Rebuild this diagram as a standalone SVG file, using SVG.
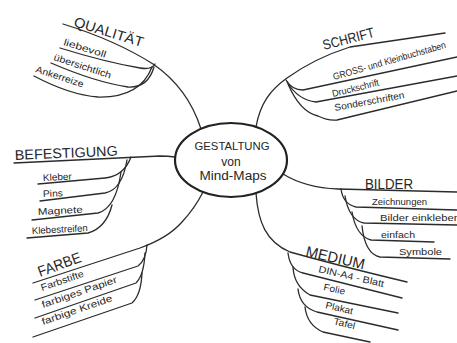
<svg xmlns="http://www.w3.org/2000/svg" width="457" height="343" viewBox="0 0 457 343">
<style>
.ln{fill:none;stroke:#2b2b2b;stroke-width:1.3;stroke-linecap:round;stroke-linejoin:round}
.t{font-family:"Liberation Sans","DejaVu Sans",sans-serif;fill:#262626}
.h{font-size:14px}
.i{font-size:9.5px}
.c{font-size:11px;text-anchor:middle}
</style>
<rect width="457" height="343" fill="#ffffff"/>
<g id="connectors">
<path class="ln" d="M63,24 Q115,40 153,64 Q188,88 201,129"/>
<path class="ln" d="M60,48 Q105,62 140,68 Q152,70 155,64"/>
<path class="ln" d="M51,63 Q95,82 128,87 Q148,88 154,67"/>
<path class="ln" d="M34,76 Q70,95 98,97 Q140,98 152,67"/>
<path class="ln" d="M256,127 C260,104 270,90 287,78 Q315,58 350,47 L445,33"/>
<path class="ln" d="M286,80 Q292,90 303,90 L457,57"/>
<path class="ln" d="M287,82 Q298,100 316,102 L457,76"/>
<path class="ln" d="M288,84 Q300,112 318,116 Q328,121 337,120 L457,91"/>
<path class="ln" d="M14,163 L160,156 Q168,156 175,157"/>
<path class="ln" d="M38,184 L105,178 Q124,176 131,157"/>
<path class="ln" d="M40,201 L105,193 Q122,190 127,160"/>
<path class="ln" d="M32,220 L98,213 Q116,208 121,172"/>
<path class="ln" d="M27,238 L88,233 Q106,228 112,205"/>
<path class="ln" d="M283,174 C296,182 312,188 338,189 L457,192"/>
<path class="ln" d="M341,189 Q343,204 356,207 L457,210"/>
<path class="ln" d="M345,196 Q349,220 364,223 L457,225"/>
<path class="ln" d="M352,212 Q356,236 371,240 L434,242"/>
<path class="ln" d="M362,226 Q365,254 380,257 L450,259"/>
<path class="ln" d="M256,193 C258,222 266,242 290,252 Q340,266 407,282"/>
<path class="ln" d="M288,253 Q290,270 303,273 L402,298"/>
<path class="ln" d="M293,267 Q294,286 310,295 L398,313"/>
<path class="ln" d="M298,289 Q300,307 317,312 L398,330"/>
<path class="ln" d="M305,307 Q307,325 323,332 L370,342"/>
<path class="ln" d="M33,283 L140,248 Q168,238 182,222 Q195,208 203,192"/>
<path class="ln" d="M35,300 L138,266 Q146,260 147,245"/>
<path class="ln" d="M35,318 L136,283 Q144,275 145,253"/>
<path class="ln" d="M33,337 L132,303 Q141,295 142,273"/>
</g>
<g id="center">
<ellipse cx="231" cy="160" rx="56" ry="37" fill="none" stroke="#222" stroke-width="2.2"/>
<text class="t c" x="232" y="150" textLength="75" lengthAdjust="spacingAndGlyphs">GESTALTUNG</text>
<text class="t c" x="231" y="166" style="font-size:12px">von</text>
<text class="t c" x="233" y="180" textLength="67" lengthAdjust="spacingAndGlyphs" style="font-size:12px">Mind-Maps</text>
</g>
<g id="qualitaet">
<text class="t h" transform="translate(73,26) rotate(17)" textLength="72" lengthAdjust="spacingAndGlyphs">QUALITÄT</text>
<text class="t i" transform="translate(63,45) rotate(17)" textLength="44" lengthAdjust="spacingAndGlyphs">liebevoll</text>
<text class="t i" transform="translate(53,60) rotate(18)" textLength="60" lengthAdjust="spacingAndGlyphs">übersichtlich</text>
<text class="t i" transform="translate(35,72) rotate(18)" textLength="50" lengthAdjust="spacingAndGlyphs">Ankerreize</text>
</g>
<g id="schrift">
<text class="t h" transform="translate(324,50) rotate(-14.5)" textLength="53" lengthAdjust="spacingAndGlyphs">SCHRIFT</text>
<text class="t i" transform="translate(334,80) rotate(-16)" textLength="117" lengthAdjust="spacingAndGlyphs">GROSS- und Kleinbuchstaben</text>
<text class="t i" transform="translate(333,97) rotate(-14)" textLength="48" lengthAdjust="spacingAndGlyphs">Druckschrift</text>
<text class="t i" transform="translate(335,111) rotate(-10.5)" textLength="71" lengthAdjust="spacingAndGlyphs">Sonderschriften</text>
</g>
<g id="befestigung">
<text class="t h" transform="translate(15,160) rotate(-2.5)" textLength="103" lengthAdjust="spacingAndGlyphs">BEFESTIGUNG</text>
<text class="t i" transform="translate(43,181) rotate(-3)" textLength="29" lengthAdjust="spacingAndGlyphs">Kleber</text>
<text class="t i" transform="translate(43,197) rotate(-2)" textLength="20" lengthAdjust="spacingAndGlyphs">Pins</text>
<text class="t i" transform="translate(38,215) rotate(-3)" textLength="45" lengthAdjust="spacingAndGlyphs">Magnete</text>
<text class="t i" transform="translate(32,234) rotate(-3)" textLength="56" lengthAdjust="spacingAndGlyphs">Klebestreifen</text>
</g>
<g id="bilder">
<text class="t h" x="365" y="189" textLength="48" lengthAdjust="spacingAndGlyphs">BILDER</text>
<text class="t i" x="372" y="205" textLength="55" lengthAdjust="spacingAndGlyphs">Zeichnungen</text>
<text class="t i" x="380" y="221" textLength="80" lengthAdjust="spacingAndGlyphs">Bilder einkleben</text>
<text class="t i" x="381" y="238" textLength="34" lengthAdjust="spacingAndGlyphs">einfach</text>
<text class="t i" x="399" y="255" textLength="43" lengthAdjust="spacingAndGlyphs">Symbole</text>
</g>
<g id="medium">
<text class="t h" transform="translate(305,256) rotate(13)" textLength="60" lengthAdjust="spacingAndGlyphs" style="font-size:15px">MEDIUM</text>
<text class="t i" transform="translate(318,272) rotate(13)" textLength="67" lengthAdjust="spacingAndGlyphs">DIN-A4 - Blatt</text>
<text class="t i" transform="translate(323,290) rotate(12)" textLength="22" lengthAdjust="spacingAndGlyphs">Folie</text>
<text class="t i" transform="translate(325,308) rotate(13)" textLength="28" lengthAdjust="spacingAndGlyphs">Plakat</text>
<text class="t i" transform="translate(333,324) rotate(14)" textLength="22" lengthAdjust="spacingAndGlyphs">Tafel</text>
</g>
<g id="farbe">
<text class="t h" transform="translate(40,277) rotate(-20)" textLength="45" lengthAdjust="spacingAndGlyphs" style="font-size:15px">FARBE</text>
<text class="t i" transform="translate(42,291) rotate(-19)" textLength="45" lengthAdjust="spacingAndGlyphs">Farbstifte</text>
<text class="t i" transform="translate(43,308) rotate(-19)" textLength="79" lengthAdjust="spacingAndGlyphs">farbiges Papier</text>
<text class="t i" transform="translate(43,325) rotate(-19)" textLength="74" lengthAdjust="spacingAndGlyphs">farbige Kreide</text>
</g>
</svg>
